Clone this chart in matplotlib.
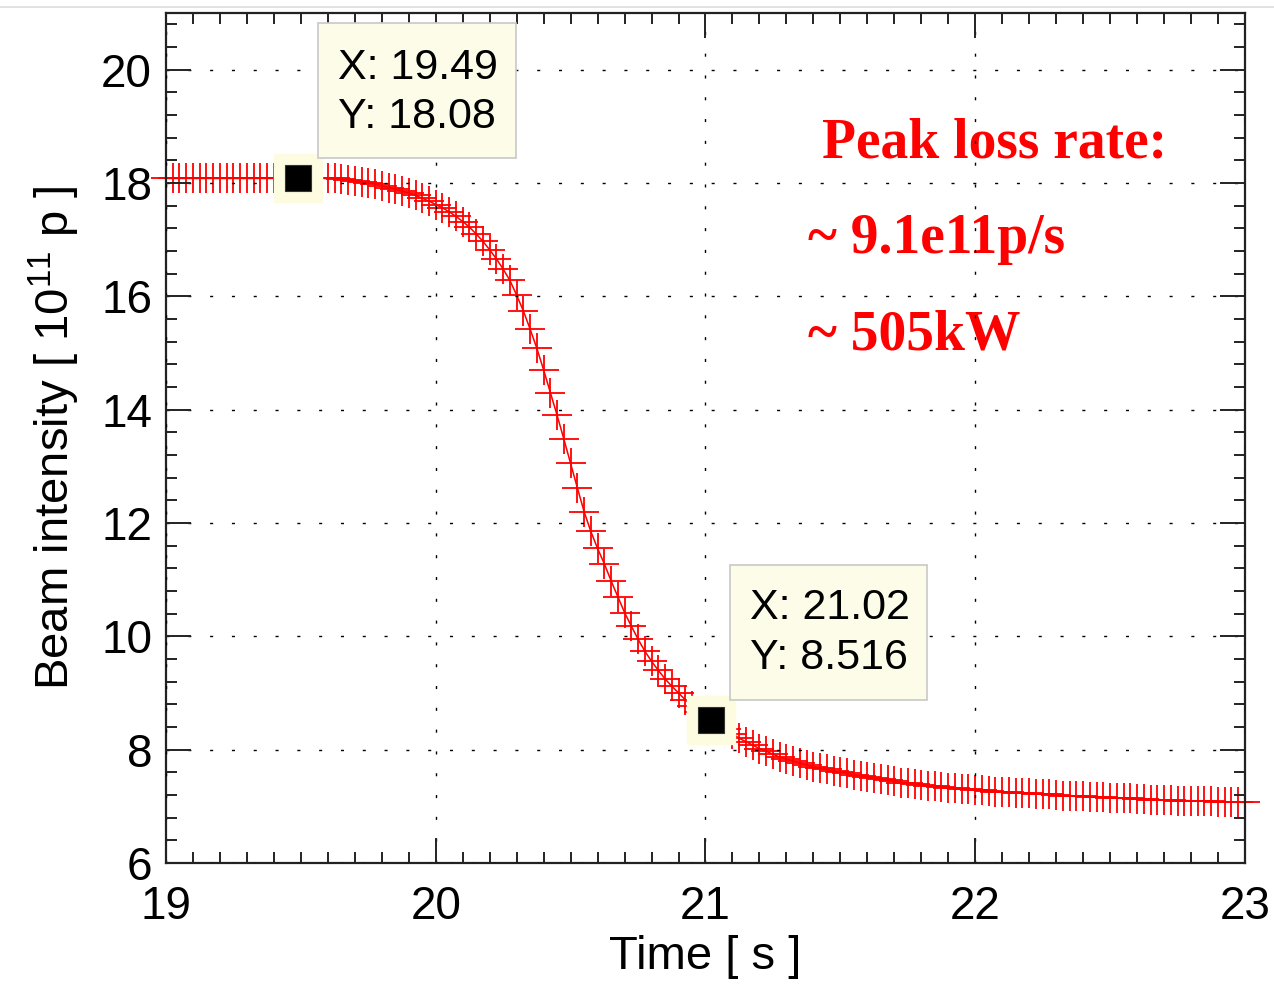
import numpy as np
import matplotlib
matplotlib.use('Agg')
import matplotlib.pyplot as plt
from matplotlib.ticker import MultipleLocator, AutoMinorLocator
from matplotlib.lines import Line2D
from matplotlib.patches import Rectangle

plt.rcParams['font.family'] = ['Liberation Sans', 'DejaVu Sans']
plt.rcParams['mathtext.fontset'] = 'custom'
plt.rcParams['mathtext.rm'] = 'Liberation Sans'
plt.rcParams['mathtext.default'] = 'regular'

# beam current samples, one every 25 ms from 19 s to 23 s
time_s = np.round(np.arange(19.0, 23.0001, 0.025), 3)
intensity = [
    18.08, 18.08, 18.08, 18.08, 18.08, 18.08, 18.08, 18.08, 18.08, 18.08,
    18.08, 18.08, 18.08, 18.08, 18.08, 18.08, 18.08, 18.08, 18.08, 18.08,
    18.08, 18.08, 18.08, 18.08, 18.08, 18.08, 18.07, 18.06, 18.04, 18.02,
    18.00, 17.98, 17.95, 17.92, 17.89, 17.86, 17.82, 17.78, 17.73, 17.68,
    17.62, 17.56, 17.49, 17.41, 17.32, 17.22, 17.10, 16.97, 16.82, 16.66,
    16.48, 16.28, 16.02, 15.74, 15.42, 15.08, 14.70, 14.30, 13.90, 13.48,
    13.05, 12.62, 12.20, 11.85, 11.55, 11.28, 10.98, 10.70, 10.42, 10.18,
    9.95, 9.74, 9.56, 9.40, 9.25, 9.12, 9.00, 8.88, 8.77, 8.67,
    8.58, 8.50, 8.43, 8.36, 8.28, 8.20, 8.14, 8.08, 8.02, 7.97,
    7.92, 7.87, 7.83, 7.80, 7.76, 7.73, 7.70, 7.67, 7.65, 7.62,
    7.60, 7.58, 7.56, 7.54, 7.52, 7.50, 7.48, 7.46, 7.44, 7.42,
    7.41, 7.39, 7.38, 7.36, 7.35, 7.34, 7.33, 7.32, 7.31, 7.30,
    7.29, 7.28, 7.27, 7.26, 7.26, 7.25, 7.24, 7.24, 7.23, 7.22,
    7.21, 7.21, 7.20, 7.19, 7.19, 7.18, 7.18, 7.17, 7.16, 7.16,
    7.15, 7.15, 7.14, 7.14, 7.13, 7.13, 7.12, 7.12, 7.11, 7.11,
    7.10, 7.10, 7.10, 7.09, 7.09, 7.09, 7.08, 7.08, 7.08, 7.07,
    7.07,
]
assert len(intensity) == len(time_s)

# data cursors
tip_x = [19.49, 21.02]
tip_y = [18.08, 8.516]
tip_labels = ['X: 19.49\nY: 18.08', 'X: 21.02\nY: 8.516']

note_lines = ['Peak loss rate:', '~ 9.1e11p/s', '~ 505kW']

fig = plt.figure(figsize=(12.74, 9.9), dpi=100)
ax = fig.add_axes([0.1303, 0.1283, 0.8469, 0.8586])

ax.plot(time_s, intensity, color='red', linestyle='-', linewidth=1.1,
        marker='+', markersize=21, markeredgewidth=1.3, clip_on=False, zorder=2)

# cursor markers with pale halo
ax.plot(tip_x, tip_y, linestyle='none', marker='s', markersize=35,
        color='#fdfce0', markeredgecolor='#fdfce0', zorder=6, clip_on=False)
ax.plot(tip_x, tip_y, linestyle='none', marker='s', markersize=18.5,
        color='black', markeredgecolor='#333333', markeredgewidth=0.8, zorder=7)

# cursor text boxes: (left, bottom, width, height) and text anchor
box_rects = [(19.563, 18.44, 0.734, 2.377), (21.091, 8.88, 0.730, 2.377)]
text_pos = [(19.638, 19.60), (21.165, 10.06)]
for (x0, y0, w, h), (tx, ty), lab in zip(box_rects, text_pos, tip_labels):
    ax.add_patch(Rectangle((x0, y0), w, h, facecolor='#fcfce8',
                           edgecolor='#c8c8c8', linewidth=1.2, zorder=8))
    ax.text(tx, ty, lab, fontsize=31, ha='left', va='center',
            linespacing=1.3, zorder=9)

note_x = [21.432, 21.38, 21.38]
note_y = [18.69, 17.01, 15.31]
for nx, ny, txt in zip(note_x, note_y, note_lines):
    ax.text(nx, ny, txt, color='red', fontsize=40, fontweight='bold',
            family=['Liberation Serif', 'DejaVu Serif'],
            ha='left', va='center', zorder=1)

ax.set_xlim(19, 23)
ax.set_ylim(6, 21)
ax.xaxis.set_major_locator(MultipleLocator(1))
ax.xaxis.set_minor_locator(AutoMinorLocator(10))
ax.yaxis.set_major_locator(MultipleLocator(2))
ax.yaxis.set_minor_locator(AutoMinorLocator(5))

ax.set_axisbelow(False)
ax.grid(True, which='major', color='black', linestyle=(0, (2.2, 13.5)),
        linewidth=1.0)

ax.tick_params(which='both', direction='in', top=True, right=True,
               width=1.4, color='#222222')
ax.tick_params(which='major', length=18, labelsize=33)
ax.tick_params(which='minor', length=8)
ax.tick_params(axis='x', which='major', pad=16)
ax.tick_params(axis='y', which='major', pad=10)
for sp in ax.spines.values():
    sp.set_linewidth(1.6)
    sp.set_color('#222222')

ax.set_xlabel('Time [ s ]', fontsize=34, labelpad=4)
ax.set_ylabel('Beam intensity [ 10$^{11}$ p ]', fontsize=34, labelpad=14)

fig.add_artist(Line2D([0, 1], [0.993, 0.993], color='#dddddd', linewidth=1.2))

fig.savefig('out.png', dpi=100)
